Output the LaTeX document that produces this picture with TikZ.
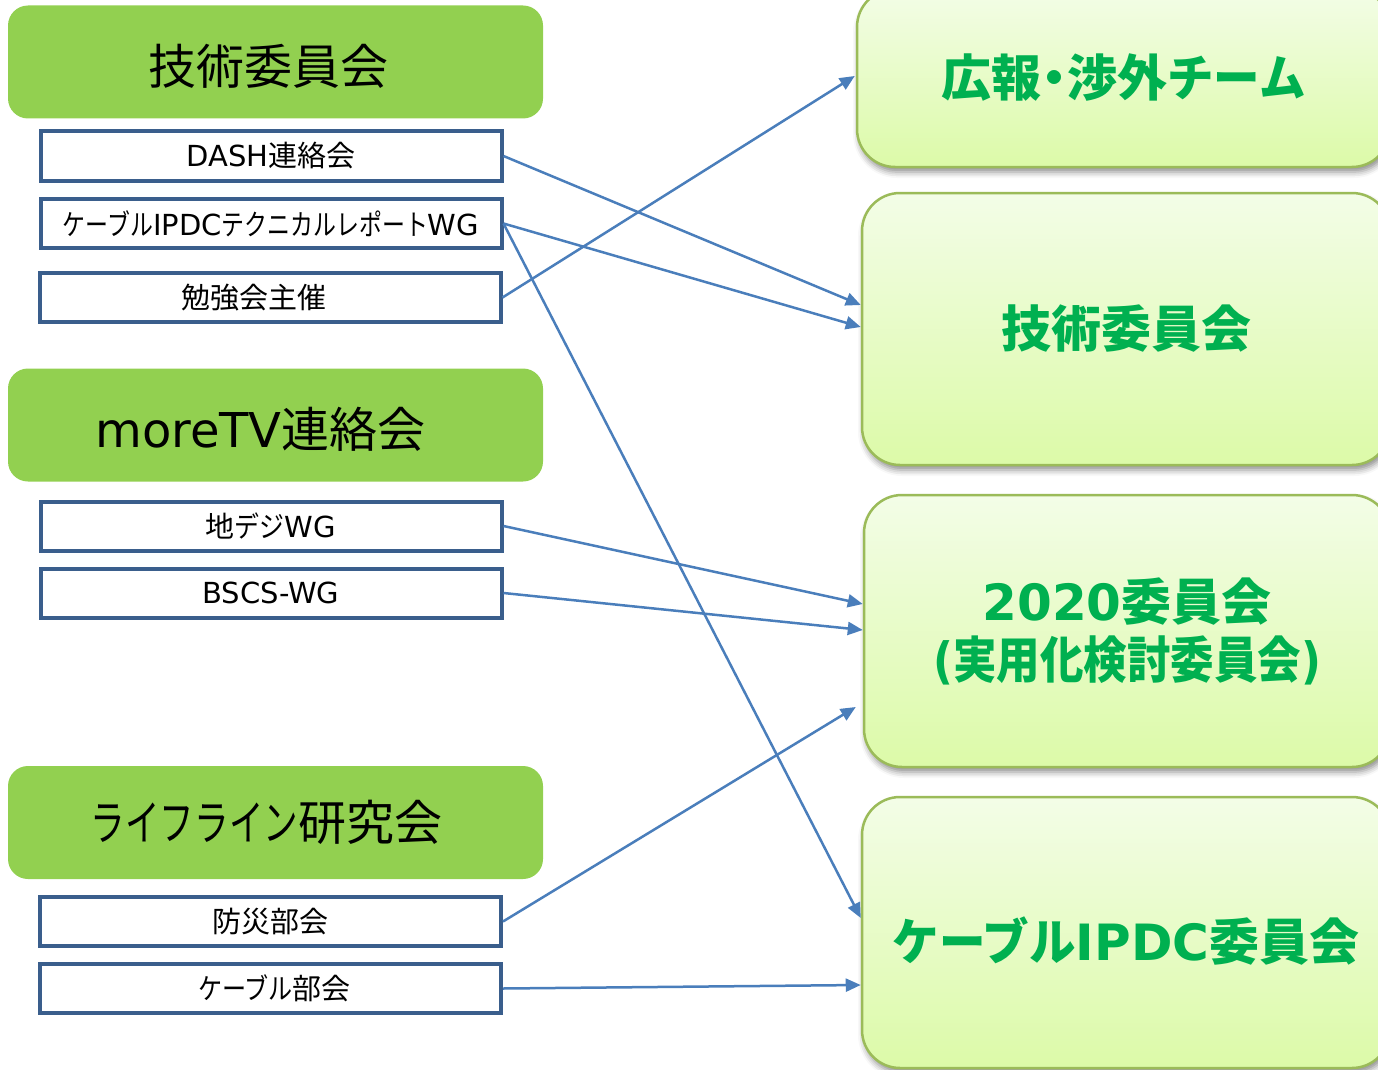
\documentclass[tikz,border=0pt]{standalone}
\usepackage{fontspec}
\usepackage{graphicx}
\setmainfont{DejaVu Sans}
\newfontfamily\jpf{Noto Sans CJK JP}
\newfontfamily\latn{DejaVu Sans}
\usetikzlibrary{arrows.meta,shadows.blur,calc}
\definecolor{lgreen}{HTML}{92D050}
\definecolor{navy}{HTML}{3A5E8C}
\definecolor{arrowblue}{HTML}{4A7EBB}
\definecolor{rborder}{HTML}{9BBB59}
\definecolor{rtop}{HTML}{F3FDE7}
\definecolor{rbot}{HTML}{DCFAA8}
\definecolor{tgreen}{HTML}{00B050}
\newcommand\lat[1]{{\latn #1}}
\newcommand\kn[2][0.86]{\scalebox{#1}[1]{#2}}
\newcommand\dropby[2]{\raisebox{-#1}[\height][\depth]{#2}}
\begin{document}
\begin{tikzpicture}[x=1pt,y=-1pt,
  grp/.style={fill=lgreen, rounded corners=20pt, minimum width=535pt, minimum height=113pt, inner sep=0pt, font=\jpf\fontsize{48}{56}\selectfont, text=black},
  item/.style={draw=navy, line width=4pt, fill=white, minimum width=461pt, minimum height=49pt, inner sep=0pt, font=\jpf\fontsize{29}{34}\selectfont},
  cmt/.style={draw=rborder, line width=2.5pt, top color=rtop, bottom color=rbot, rounded corners=38pt, inner sep=0pt, text=tgreen, font=\jpf\bfseries\fontsize{50}{58}\selectfont, align=center, blur shadow={shadow xshift=2pt, shadow yshift=-5pt, shadow blur radius=6pt, shadow opacity=45}},
  link/.style={draw=arrowblue, line width=2.5pt, -{Triangle[length=15pt,width=13pt]}}
]
\useasboundingbox (0,0) rectangle (1378,1070);
\clip (0,0) rectangle (1378,1070);

% left groups
\node[grp] (g1) at (275.5,62) {\dropby{4pt}{技術委員会}\hspace*{14pt}};
\node[grp] (g2) at (275.5,425) {\dropby{4pt}{\lat{moreTV}連絡会}\hspace*{30pt}};
\node[grp] (g3) at (275.5,822.5) {\kn[0.72]{ライフライン}研究会\hspace*{18pt}};

% left items
\node[item] (d1) at (271,156) {\lat{DASH}連絡会};
\node[item] (d2) at (271,223.5) {\kn[0.79]{ケーブル}\lat{IPDC}\kn[0.79]{テクニカルレポート}\lat{WG}};
\node[item] (d3) at (270,297.5) {勉強会主催\hspace*{32pt}};
\node[item] (m1) at (271,526) {地\kn{デジ}\lat{WG}};
\node[item] (m2) at (271,593) {\lat{BSCS-WG}};
\node[item] (l1) at (270.5,921.5) {防災部会};
\node[item] (l2) at (270.5,988.5) {\hspace*{8pt}\kn[0.83]{ケーブル}部会};

% right committees
\node[cmt, minimum width=533pt, minimum height=178pt] (p) at (1123.5,78) {広報\makebox[26pt][c]{・}渉外\kn[0.93]{チーム}};
\node[cmt, minimum width=528pt, minimum height=272pt] (t) at (1126,329) {技術委員会};
\node[cmt, minimum width=526pt, minimum height=272pt] (c) at (1127,631) {\lat{2020}委員会\\\kn[0.87]{\lat{(}実用化検討委員会\lat{)}}};
\node[cmt, minimum width=528pt, minimum height=271pt] (i) at (1126,932.5) {\dropby{9pt}{\kn[0.93]{ケーブル}\lat{IPDC}委員会}};

% links
\draw[link] (d1.east) -- ([yshift=24pt]t.west);
\draw[link] (d2.east) -- ([yshift=2pt]t.west);
\draw[link] (d2.east) -- ([yshift=14.5pt]i.west);
\draw[link] (d3.east) -- ([xshift=-1pt,yshift=2pt]p.west);
\draw[link] (m1.east) -- ([yshift=27pt]c.west);
\draw[link] (m2.east) -- ([yshift=1pt]c.west);
\draw[link] (l1.east) -- ([xshift=-7pt,yshift=-76pt]c.west);
\draw[link] (l2.east) -- ([yshift=-52.5pt]i.west);
\end{tikzpicture}
\end{document}
